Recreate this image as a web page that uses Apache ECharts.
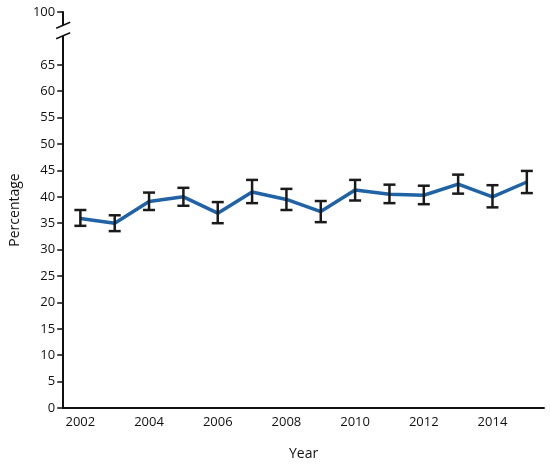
<!DOCTYPE html>
<html><head><meta charset="utf-8">
<script src="https://cdn.jsdelivr.net/npm/echarts@6/dist/echarts.min.js"></script>
<style>html,body{margin:0;padding:0;background:#fff}#c{width:550px;height:468px}</style>
</head><body><div id="c"></div>
<script>
const years = ['2002','2003','2004','2005','2006','2007','2008','2009','2010','2011','2012','2013','2014','2015'];
const values = [35.9,35.0,39.1,40.0,36.9,40.9,39.5,37.2,41.3,40.5,40.3,42.4,40.0,42.8];
const lower = [34.5,33.5,37.5,38.3,35.0,38.8,37.5,35.2,39.3,38.8,38.6,40.6,38.0,40.7];
const upper = [37.5,36.5,40.8,41.7,39.0,43.2,41.5,39.2,43.2,42.3,42.1,44.2,42.2,44.9];
const yTicks = [0,5,10,15,20,25,30,35,40,45,50,55,60,65,75];
const chart = echarts.init(document.getElementById('c'));
const font = 'Open Sans';
chart.setOption({
  animation:false,
  grid:{left:62,right:6,top:12,bottom:60},
  xAxis:{type:'category',data:years,
    name:'Year',nameLocation:'middle',nameGap:39,nameTextStyle:{fontFamily:font,fontSize:14,color:'#111'},
    axisLine:{lineStyle:{color:'#111',width:2}},
    axisTick:{lineStyle:{color:'#111',width:1.5},length:6},
    axisLabel:{interval:1,fontFamily:font,fontSize:13,color:'#111'}},
  yAxis:{type:'value',min:0,max:75,
    name:'Percentage',nameLocation:'middle',nameGap:39,nameTextStyle:{fontFamily:font,fontSize:14,color:'#111'},
    splitLine:{show:false},
    axisLine:{show:true,lineStyle:{color:'#111',width:2}},
    axisTick:{show:true,customValues:yTicks,length:6,lineStyle:{color:'#111',width:1.5}},
    axisLabel:{customValues:yTicks,fontFamily:font,fontSize:13,color:'#111',
      formatter:v=>v===75?'100':String(v)}},
  series:[
    {type:'line',data:values,symbol:'none',lineStyle:{color:'#1f62a6',width:3.5},z:2},
    {type:'custom',z:3,data:years.map((y,i)=>[i,lower[i],upper[i]]),
     renderItem:(p,api)=>{
       const lo=api.coord([api.value(0),api.value(1)]);
       const hi=api.coord([api.value(0),api.value(2)]);
       const w=6;
       const st={stroke:'#1a1a1a',lineWidth:2.5};
       return {type:'group',children:[
         {type:'line',shape:{x1:lo[0],y1:lo[1],x2:hi[0],y2:hi[1]},style:st},
         {type:'line',shape:{x1:lo[0]-w,y1:lo[1],x2:lo[0]+w,y2:lo[1]},style:st},
         {type:'line',shape:{x1:hi[0]-w,y1:hi[1],x2:hi[0]+w,y2:hi[1]},style:st}]};
     }}
  ]
});
const a=chart.convertToPixel({yAxisIndex:0},72.5);
const b=chart.convertToPixel({yAxisIndex:0},70.5);
const x=chart.convertToPixel({xAxisIndex:0},0)-17.2;
chart.setOption({graphic:[
  {type:'rect',shape:{x:x-3,y:a,width:6,height:b-a},style:{fill:'#fff'},z:10},
  {type:'line',shape:{x1:x-7,y1:a+3,x2:x+7,y2:a-3},style:{stroke:'#111',lineWidth:1.5},z:11},
  {type:'line',shape:{x1:x-7,y1:b+3,x2:x+7,y2:b-3},style:{stroke:'#111',lineWidth:1.5},z:11}
]});
</script></body></html>
